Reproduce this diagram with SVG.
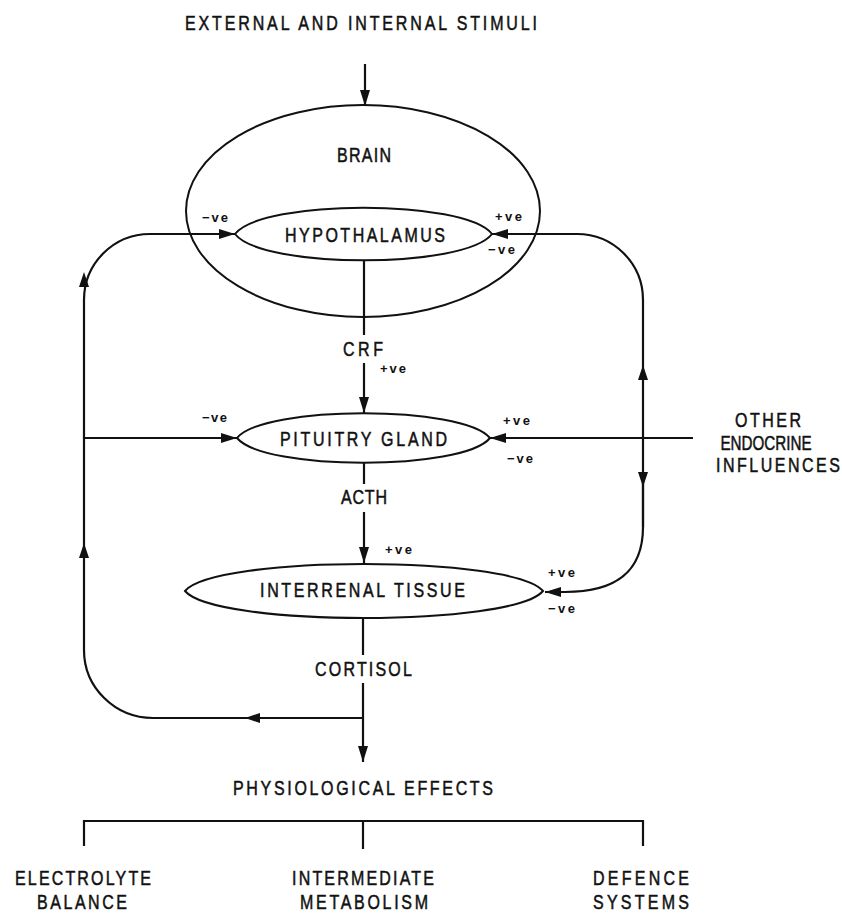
<svg xmlns="http://www.w3.org/2000/svg" width="842" height="913" viewBox="0 0 842 913">
<style>
.t{font-family:"Liberation Sans",Arial,sans-serif;font-size:20px;fill:#111;stroke:#111;stroke-width:0.5;text-anchor:middle}
.s{font-family:"Liberation Sans",Arial,sans-serif;font-size:13px;font-weight:bold;fill:#111}
.n{fill:none;stroke:#111;stroke-width:2}
.c{fill:none;stroke:#111;stroke-width:2.2}
.h{fill:#111;stroke:none}
</style>
<defs>
<marker id="ah" markerWidth="16" markerHeight="10" refX="16" refY="5" orient="auto" markerUnits="userSpaceOnUse"><path d="M0,0 L16,5 L0,10 Z" fill="#111"/></marker>
<path id="tri" d="M0,0 L-15,-5 L-15,5 Z"/>
</defs>
<rect width="842" height="913" fill="#fff"/>

<g id="stimuli"><text class="t" transform="translate(361,30) scale(0.8,1)" textLength="440" lengthAdjust="spacing">EXTERNAL AND INTERNAL STIMULI</text></g>

<g id="brain">
<ellipse class="n" cx="363" cy="211" rx="177" ry="106"/>
<text class="t" transform="translate(364,162) scale(0.8,1)" textLength="67.5" lengthAdjust="spacing">BRAIN</text>
</g>

<g id="hypothalamus">
<path class="n" d="M235,234 C262,199 465,199 492,234 C465,269 262,269 235,234 Z" fill="#fff"/>
<text class="t" transform="translate(365,242) scale(0.8,1)" textLength="200" lengthAdjust="spacing">HYPOTHALAMUS</text>
</g>

<g id="pituitary">
<path class="n" d="M237,438 C264,405 463,405 490,438 C463,471 264,471 237,438 Z" fill="#fff"/>
<text class="t" transform="translate(363.5,446) scale(0.8,1)" textLength="209" lengthAdjust="spacing">PITUITRY GLAND</text>
</g>

<g id="interrenal">
<path class="n" d="M185,591 C215,555 513,555 543,591 C513,627 215,627 185,591 Z" fill="#fff"/>
<text class="t" transform="translate(362.5,597) scale(0.8,1)" textLength="256" lengthAdjust="spacing">INTERRENAL TISSUE</text>
</g>

<g id="other-endocrine">
<text class="t" transform="translate(768,427) scale(0.8,1)" textLength="82.5" lengthAdjust="spacing">OTHER</text>
<text class="t" transform="translate(766,450) scale(0.8,1)" textLength="114" lengthAdjust="spacingAndGlyphs">ENDOCRINE</text>
<text class="t" transform="translate(778,472) scale(0.8,1)" textLength="155" lengthAdjust="spacing">INFLUENCES</text>
</g>

<g id="physiological-effects">
<text class="t" transform="translate(363,795) scale(0.8,1)" textLength="325" lengthAdjust="spacing">PHYSIOLOGICAL EFFECTS</text>
</g>

<g id="electrolyte">
<text class="t" transform="translate(83,885) scale(0.8,1)" textLength="170" lengthAdjust="spacing">ELECTROLYTE</text>
<text class="t" transform="translate(82,909) scale(0.8,1)" textLength="112.5" lengthAdjust="spacing">BALANCE</text>
</g>
<g id="intermediate">
<text class="t" transform="translate(363,885) scale(0.8,1)" textLength="177.5" lengthAdjust="spacing">INTERMEDIATE</text>
<text class="t" transform="translate(364,909) scale(0.8,1)" textLength="160" lengthAdjust="spacing">METABOLISM</text>
</g>
<g id="defence">
<text class="t" transform="translate(641,885) scale(0.8,1)" textLength="120" lengthAdjust="spacing">DEFENCE</text>
<text class="t" transform="translate(641,909) scale(0.8,1)" textLength="120" lengthAdjust="spacing">SYSTEMS</text>
</g>

<g id="connectors">
<line class="c" x1="365" y1="64" x2="365" y2="106" marker-end="url(#ah)"/>
<line class="c" x1="364" y1="260" x2="364" y2="335"/>
<line class="c" x1="364" y1="363" x2="364" y2="413" marker-end="url(#ah)"/>
<text class="t" transform="translate(363,356) scale(0.8,1)" textLength="50" lengthAdjust="spacing">CRF</text>
<line class="c" x1="364" y1="463" x2="364" y2="484"/>
<line class="c" x1="364" y1="512" x2="364" y2="563" marker-end="url(#ah)"/>
<text class="t" transform="translate(364,504) scale(0.8,1)" textLength="57.5" lengthAdjust="spacing">ACTH</text>
<line class="c" x1="363" y1="617" x2="363" y2="655"/>
<line class="c" x1="363" y1="683" x2="363" y2="762" marker-end="url(#ah)"/>
<text class="t" transform="translate(363.5,676) scale(0.8,1)" textLength="121" lengthAdjust="spacing">CORTISOL</text>

<path class="c" d="M363,718 L153,718 A69,68 0 0 1 84,650 L84,300 A66,66 0 0 1 150,234 L235,234" marker-end="url(#ah)"/>
<use href="#tri" class="h" transform="translate(245,718) rotate(180)"/>
<use href="#tri" class="h" transform="translate(84,543) rotate(-90)"/>
<use href="#tri" class="h" transform="translate(84,272) rotate(-90)"/>
<line class="c" x1="84" y1="438" x2="237" y2="438" marker-end="url(#ah)"/>

<path class="c" stroke-width="2.6" d="M643,527 L643,300 A66,66 0 0 0 577,234 L492,234" marker-end="url(#ah)"/>
<path class="c" stroke-width="2.6" d="M643,480 L643,527 C643,575 612,592 565,592 L545,592" marker-end="url(#ah)"/>
<use href="#tri" class="h" transform="translate(643,365) rotate(-90)"/>
<use href="#tri" class="h" transform="translate(643,487) rotate(90)"/>
<line class="c" x1="693" y1="438" x2="490" y2="438" marker-end="url(#ah)"/>

<path class="c" d="M84,846 L84,821 L643,821 L643,846 M363,821 L363,849"/>

<text class="s" x="202" y="222" textLength="26" lengthAdjust="spacing">−ve</text>
<text class="s" x="495" y="221" textLength="27" lengthAdjust="spacing">+ve</text>
<text class="s" x="488" y="254" textLength="27" lengthAdjust="spacing">−ve</text>
<text class="s" x="380" y="373" textLength="26" lengthAdjust="spacing">+ve</text>
<text class="s" x="202" y="422" textLength="25" lengthAdjust="spacing">−ve</text>
<text class="s" x="503" y="425" textLength="27" lengthAdjust="spacing">+ve</text>
<text class="s" x="507" y="463" textLength="26" lengthAdjust="spacing">−ve</text>
<text class="s" x="385" y="554" textLength="27" lengthAdjust="spacing">+ve</text>
<text class="s" x="548" y="577" textLength="27" lengthAdjust="spacing">+ve</text>
<text class="s" x="548" y="613" textLength="27" lengthAdjust="spacing">−ve</text>
</g>
</svg>
